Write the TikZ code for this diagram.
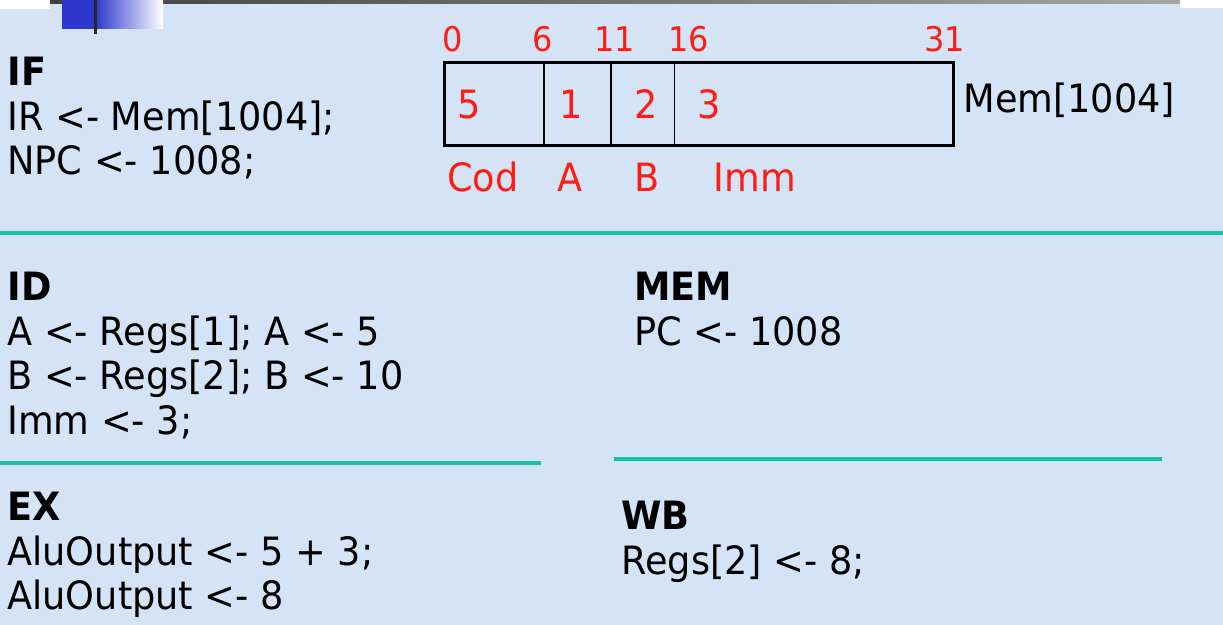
\documentclass[tikz,border=0pt]{standalone}
\usepackage{fontspec}
\setmainfont{DejaVu Sans}[FakeStretch=0.94]
\usepackage{xcolor}
\usepackage{tikz}
\usetikzlibrary{positioning}
\definecolor{bgblue}{RGB}{212,228,246}
\definecolor{lineteal}{RGB}{20,195,165}
\definecolor{fieldred}{RGB}{255,28,18}
\definecolor{decoblue}{RGB}{45,55,205}

\begin{document}
\begin{tikzpicture}[x=0.5pt, y=-0.5pt, stage/.style={anchor=north west, inner sep=0pt, align=left, font=\fontsize{19.5}{22.25}\selectfont}, field/.style={draw, thin, minimum height=41pt, inner sep=0pt, anchor=north west}, val/.style={text=fieldred, inner sep=0pt, font=\fontsize{19.5}{22}\selectfont}, bit/.style={text=fieldred, inner sep=0pt, anchor=base, font=\fontsize{17}{20}\selectfont}, sep/.style={draw=lineteal, line width=2.1pt}]
\useasboundingbox (0,0) rectangle (1223,625);
\fill[bgblue] (0,0) rectangle (1223,625);
% slide decoration at the top
\shade[left color=black!75, right color=black!35] (50,0) rectangle (1180,4);
\fill[white] (0,0) rectangle (50,9);
\fill[white] (1180,0) rectangle (1223,8);
\fill[decoblue] (62,0) rectangle (95,29);
\shade[left color=decoblue, right color=white] (95,0) rectangle (163,29);
\draw[line width=1.5pt, black!85] (95,0) -- (95,34);
% instruction word
\node[field, minimum width=49.5pt] (cod) at (444,63) {};
\node[field, minimum width=33pt, right=0pt of cod] (fa) {};
\node[field, minimum width=31.5pt, right=0pt of fa] (fb) {};
\node[field, minimum width=139pt, right=0pt of fb] (imm) {};
\draw[line width=1.5pt] (cod.north west) rectangle (imm.south east);
\node[val, right=6.5pt of cod.west] (vcod) {5};
\node[val, right=7.5pt of fa.west] (va) {1};
\node[val, right=11.5pt of fb.west] (vb) {2};
\node[val, right=11.5pt of imm.west] (vimm) {3};
\foreach \x/\n in {453/0, 543/6, 615/11, 689/16, 945/31}
  \node[bit] (bit\n) at (\x,52) {\n};
\node[val, anchor=base] (lcod) at (483,192) {Cod};
\node[val, anchor=base] (la) at (570,192) {A};
\node[val, anchor=base] (lb) at (647,192) {B};
\node[val, anchor=base] (limm) at (755,192) {Imm};
\node[stage, anchor=base west] (memaddr) at (963,113) {Mem[1004]};
% pipeline stages
\node[stage] (if) at (7,57) {\textbf{IF}\\IR <- Mem[1004];\\NPC <- 1008;};
\node[stage] (id) at (7,272) {\textbf{ID}\\A <- Regs[1]; A <- 5\\B <- Regs[2]; B <- 10\\Imm <- 3;};
\node[stage] (mem) at (634,272) {\textbf{MEM}\\PC <- 1008};
\node[stage] (ex) at (7,492) {\textbf{EX}\\AluOutput <- 5 + 3;\\AluOutput <- 8};
\node[stage] (wb) at (621,501) {\textbf{WB}\\Regs[2] <- 8;};
\draw[sep] (0,233) -- (1223,233);
\draw[sep] (0,463) -- (541,463);
\draw[sep] (614,459) -- (1162,459);
\end{tikzpicture}
\end{document}
